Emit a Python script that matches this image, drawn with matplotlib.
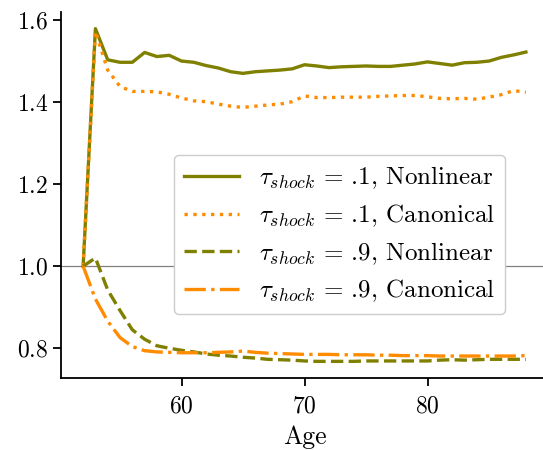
import numpy as np
import matplotlib
matplotlib.use('Agg')
import matplotlib.pyplot as plt

# Fonts: computer modern look
plt.rcParams['font.family'] = 'serif'
plt.rcParams['font.serif'] = ['cmr10']
plt.rcParams['mathtext.fontset'] = 'cm'
plt.rcParams['axes.formatter.use_mathtext'] = True

# Data
ages = np.arange(52, 89)
nonlinear_01 = [1.0, 1.579, 1.503, 1.497, 1.497, 1.521, 1.511, 1.514, 1.500, 1.497,
                1.489, 1.483, 1.474, 1.470, 1.474, 1.476, 1.478, 1.481, 1.491, 1.488,
                1.484, 1.486, 1.487, 1.488, 1.487, 1.487, 1.490, 1.493, 1.498, 1.494,
                1.490, 1.496, 1.497, 1.500, 1.509, 1.515, 1.522]
canonical_01 = [1.0, 1.572, 1.478, 1.438, 1.426, 1.426, 1.425, 1.419, 1.410, 1.403,
                1.401, 1.395, 1.390, 1.387, 1.390, 1.393, 1.395, 1.401, 1.415, 1.411,
                1.411, 1.412, 1.412, 1.412, 1.414, 1.415, 1.416, 1.416, 1.413, 1.409,
                1.408, 1.409, 1.407, 1.412, 1.418, 1.428, 1.424]
nonlinear_09 = [1.0, 1.020, 0.942, 0.892, 0.845, 0.822, 0.806, 0.800, 0.795, 0.791,
                0.786, 0.783, 0.781, 0.778, 0.776, 0.773, 0.772, 0.771, 0.769, 0.768,
                0.768, 0.768, 0.768, 0.769, 0.769, 0.769, 0.769, 0.769, 0.769, 0.771,
                0.772, 0.771, 0.772, 0.773, 0.773, 0.773, 0.773]
canonical_09 = [1.0, 0.920, 0.866, 0.826, 0.804, 0.794, 0.791, 0.790, 0.789, 0.789,
                0.789, 0.790, 0.791, 0.793, 0.790, 0.788, 0.787, 0.786, 0.785, 0.785,
                0.785, 0.784, 0.784, 0.784, 0.783, 0.783, 0.782, 0.782, 0.782, 0.781,
                0.781, 0.781, 0.781, 0.781, 0.781, 0.781, 0.782]

labels = [r'$\tau_{shock}$ = .1, Nonlinear', r'$\tau_{shock}$ = .1, Canonical',
          r'$\tau_{shock}$ = .9, Nonlinear', r'$\tau_{shock}$ = .9, Canonical']

olive = '#808000'
orange = '#ff8c00'

fig = plt.figure(figsize=(5.43, 4.5), dpi=100)
ax = fig.add_axes([0.1123, 0.16, 0.897, 0.8133])

ax.axhline(1.0, color='grey', lw=0.9, zorder=1)
ax.plot(ages, nonlinear_01, color=olive, ls='-', lw=2.4, label=labels[0])
ax.plot(ages, canonical_01, color=orange, ls=':', lw=2.4, label=labels[1])
ax.plot(ages, nonlinear_09, color=olive, ls='--', lw=2.4, label=labels[2])
ax.plot(ages, canonical_09, color=orange, ls='-.', lw=2.4, label=labels[3])

ax.set_yticks([0.8, 1.0, 1.2, 1.4, 1.6])
ax.set_xticks([60, 70, 80])
ax.tick_params(labelsize=17, width=1.3, length=5.8)
ax.tick_params(axis='x', pad=7)
ax.set_xlabel('Age', fontsize=18.5, labelpad=5)

for side in ['top', 'right']:
    ax.spines[side].set_visible(False)
for side in ['left', 'bottom']:
    ax.spines[side].set_linewidth(1.3)

ax.legend(loc='upper right', bbox_to_anchor=(0.930, 0.656), bbox_transform=fig.transFigure,
          borderaxespad=0, fontsize=18, framealpha=1, edgecolor='#cccccc',
          handlelength=2.2, labelspacing=0.45)

plt.savefig('out.png', dpi=100)
